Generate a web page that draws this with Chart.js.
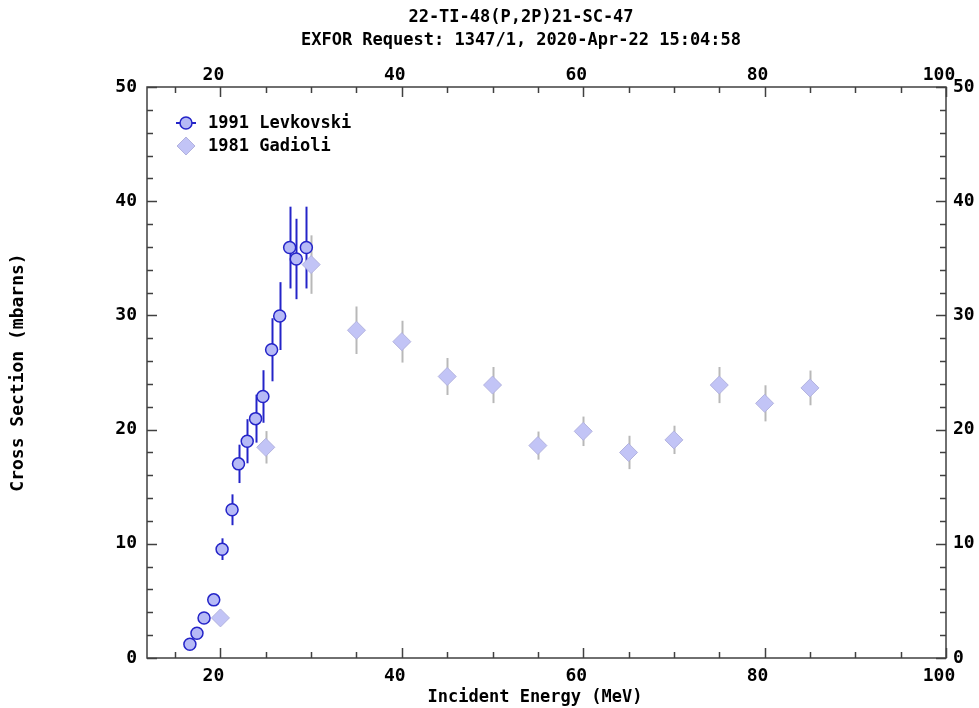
<!DOCTYPE html>
<html>
<head>
<meta charset="utf-8">
<script src="https://cdn.jsdelivr.net/npm/chart.js@4.4.0/dist/chart.umd.min.js"></script>
<style>
  html, body { margin: 0; padding: 0; background: #ffffff; }
  #wrap { width: 979px; height: 708px; }
</style>
</head>
<body>
<div id="wrap"><canvas id="c" width="979" height="708"></canvas></div>
<script>
// Plot titles
const titleLines = ['22-TI-48(P,2P)21-SC-47', 'EXFOR Request: 1347/1, 2020-Apr-22 15:04:58'];
const xAxisTitle = 'Incident Energy (MeV)';
const yAxisTitle = 'Cross Section (mbarns)';

// 1991 Levkovski: incident energy (MeV), cross section (mb), uncertainty (mb)
const levkLabel = '1991 Levkovski';
const levkEnergy = [16.63, 17.41, 18.19, 19.26, 20.18, 21.28, 21.99, 22.95, 23.87, 24.68, 25.64, 26.53, 27.63, 28.36, 29.47];
const levkXs     = [1.20, 2.17, 3.51, 5.09, 9.53, 12.98, 17.0, 18.98, 20.96, 22.9, 26.99, 29.94, 35.94, 34.94, 35.94];
const levkErr    = [0.12, 0.22, 0.35, 0.51, 0.95, 1.35, 1.68, 1.93, 2.10, 2.30, 2.76, 2.97, 3.58, 3.52, 3.58];

// 1981 Gadioli
const gadLabel = '1981 Gadioli';
const gadEnergy = [20, 25, 30, 35, 40, 45, 50, 55, 60, 65, 70, 75, 80, 85];
const gadXs     = [3.51, 18.45, 34.45, 28.7, 27.7, 24.65, 23.9, 18.6, 19.85, 18.0, 19.1, 23.9, 22.3, 23.65];
const gadErr    = [0.30, 1.42, 2.56, 2.08, 1.83, 1.62, 1.58, 1.23, 1.29, 1.46, 1.24, 1.58, 1.58, 1.52];

// Axis ticks
const xTickLabels = [20, 40, 60, 80, 100];
const xMinorStep = 5;
const yTickLabels = [0, 10, 20, 30, 40, 50];
const yMinorStep = 2;

const FONT = '"DejaVu Sans Mono", "Liberation Mono", monospace';
const tickFont = { family: FONT, size: 18, weight: 'bold' };
const frameColor = '#404040';

const levkStyle = { fill: 'rgb(182,186,246)', stroke: 'rgb(36,36,200)', bar: 'rgb(36,36,200)' };
const gadStyle  = { fill: 'rgb(194,196,246)', stroke: 'rgb(178,178,222)', bar: 'rgb(184,184,184)' };

const toPoints = (xs, ys) => xs.map((x, i) => ({ x: x, y: ys[i] }));

// Vertical error bars, drawn beneath the markers
const errorBars = {
  id: 'errorBars',
  beforeDatasetsDraw(chart) {
    const { ctx, scales } = chart;
    const sets = [
      { e: levkEnergy, v: levkXs, d: levkErr, color: levkStyle.bar },
      { e: gadEnergy, v: gadXs, d: gadErr, color: gadStyle.bar }
    ];
    ctx.save();
    ctx.lineWidth = 2;
    sets.forEach(s => {
      ctx.strokeStyle = s.color;
      s.e.forEach((en, i) => {
        const px = Math.round(scales.x.getPixelForValue(en)) + 0.5;
        const y1 = scales.y.getPixelForValue(s.v[i] - s.d[i]);
        const y2 = scales.y.getPixelForValue(s.v[i] + s.d[i]);
        ctx.beginPath();
        ctx.moveTo(px, y1);
        ctx.lineTo(px, y2);
        ctx.stroke();
      });
    });
    ctx.restore();
  }
};

// Frame with inward ticks on all four sides, titles and the inset legend
const decorations = {
  id: 'decorations',
  afterDraw(chart) {
    const { ctx, chartArea: a, scales } = chart;
    ctx.save();
    ctx.strokeStyle = frameColor;
    ctx.lineWidth = 1.5;
    ctx.strokeRect(a.left, a.top, a.right - a.left, a.bottom - a.top);

    const xs = scales.x, ys = scales.y;
    ctx.lineWidth = 1.5;
    ctx.beginPath();
    for (let v = Math.ceil(xs.min / xMinorStep) * xMinorStep; v <= xs.max; v += xMinorStep) {
      const px = Math.round(xs.getPixelForValue(v)) + 0.5;
      const len = xTickLabels.includes(v) ? 10 : 6;
      ctx.moveTo(px, a.bottom); ctx.lineTo(px, a.bottom - len);
      ctx.moveTo(px, a.top); ctx.lineTo(px, a.top + len);
    }
    for (let v = ys.min; v <= ys.max; v += yMinorStep) {
      const py = Math.round(ys.getPixelForValue(v)) + 0.5;
      const len = yTickLabels.includes(v) ? 10 : 6;
      ctx.moveTo(a.left, py); ctx.lineTo(a.left + len, py);
      ctx.moveTo(a.right, py); ctx.lineTo(a.right - len, py);
    }
    ctx.stroke();

    // titles
    ctx.fillStyle = '#000';
    ctx.font = 'bold 17px ' + FONT;
    ctx.textAlign = 'center';
    ctx.textBaseline = 'middle';
    ctx.fillText(titleLines[0], 521, 18);
    ctx.fillText(titleLines[1], 521, 41);
    ctx.fillText(xAxisTitle, 535, 698);
    ctx.save();
    ctx.translate(18, (a.top + a.bottom) / 2);
    ctx.rotate(-Math.PI / 2);
    ctx.font = 'bold 18px ' + FONT;
    ctx.fillText(yAxisTitle, 0, 0);
    ctx.restore();

    // legend
    const lx = 186;
    const rows = [
      { y: 123, label: levkLabel },
      { y: 146, label: gadLabel }
    ];
    ctx.lineWidth = 2;
    ctx.strokeStyle = levkStyle.bar;
    ctx.beginPath();
    ctx.moveTo(lx - 10, rows[0].y); ctx.lineTo(lx + 10, rows[0].y);
    ctx.stroke();
    const ds = chart.data.datasets;
    rows.forEach((r, i) => {
      const d = ds[i];
      ctx.fillStyle = d.pointBackgroundColor;
      ctx.strokeStyle = d.pointBorderColor;
      ctx.lineWidth = d.pointBorderWidth;
      Chart.helpers.drawPoint(ctx, { pointStyle: d.pointStyle, radius: d.pointRadius, rotation: 0, borderWidth: d.pointBorderWidth }, lx, r.y);
      ctx.fillStyle = '#000';
      ctx.textAlign = 'left';
      ctx.fillText(r.label, 208, r.y + 1);
    });
    ctx.restore();
  }
};

const fixedTicks = (vals) => (scale) => { scale.ticks = vals.map(v => ({ value: v })); };

new Chart(document.getElementById('c'), {
  type: 'scatter',
  data: {
    datasets: [
      {
        label: levkLabel,
        data: toPoints(levkEnergy, levkXs),
        pointStyle: 'circle',
        pointRadius: 6,
        pointHoverRadius: 6,
        pointBackgroundColor: levkStyle.fill,
        pointBorderColor: levkStyle.stroke,
        pointBorderWidth: 1.5,
        showLine: false
      },
      {
        label: gadLabel,
        data: toPoints(gadEnergy, gadXs),
        pointStyle: 'rectRot',
        pointRadius: 9,
        pointHoverRadius: 9,
        pointBackgroundColor: gadStyle.fill,
        pointBorderColor: gadStyle.stroke,
        pointBorderWidth: 1,
        showLine: false
      }
    ]
  },
  options: {
    responsive: false,
    devicePixelRatio: 1,
    animation: false,
    layout: { padding: 0 },
    plugins: { legend: { display: false }, tooltip: { enabled: false }, title: { display: false } },
    scales: {
      x: {
        type: 'linear', position: 'bottom', min: 11.9, max: 100,
        grid: { display: false, drawTicks: false }, border: { display: false },
        ticks: { font: tickFont, color: '#000', padding: 8, labelOffset: -7, maxRotation: 0 },
        afterBuildTicks: fixedTicks(xTickLabels),
        afterFit: s => { s.height = 50; }
      },
      x2: {
        type: 'linear', position: 'top', min: 11.9, max: 100,
        grid: { display: false, drawTicks: false }, border: { display: false },
        ticks: { font: tickFont, color: '#000', padding: 1, labelOffset: -7, maxRotation: 0 },
        afterBuildTicks: fixedTicks(xTickLabels),
        afterFit: s => { s.height = 87; }
      },
      y: {
        type: 'linear', position: 'left', min: 0, max: 50,
        grid: { display: false, drawTicks: false }, border: { display: false },
        ticks: { font: tickFont, color: '#000', padding: 10 },
        afterBuildTicks: fixedTicks(yTickLabels),
        afterFit: s => { s.width = 147; }
      },
      y2: {
        type: 'linear', position: 'right', min: 0, max: 50,
        grid: { display: false, drawTicks: false }, border: { display: false },
        ticks: { font: tickFont, color: '#000', padding: 7 },
        afterBuildTicks: fixedTicks(yTickLabels),
        afterFit: s => { s.width = 33; }
      }
    }
  },
  plugins: [errorBars, decorations]
});
</script>
</body>
</html>
